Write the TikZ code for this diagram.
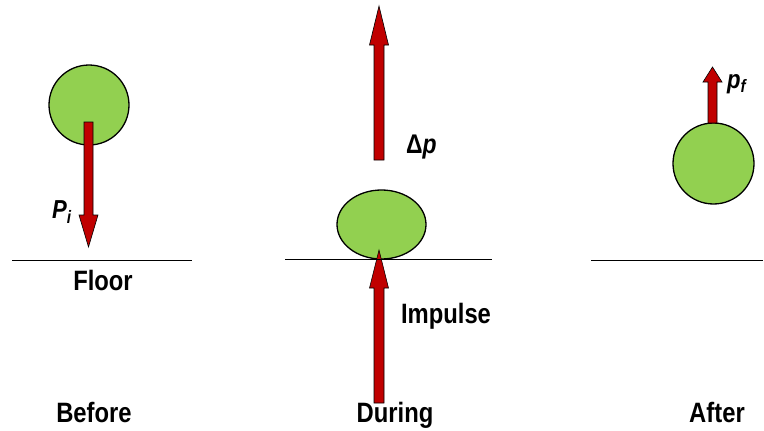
\documentclass[tikz,border=0pt]{standalone}
\usepackage{fontspec}
\setmainfont{Liberation Sans}
\newfontfamily\narrowfont[FakeStretch=0.85]{Liberation Sans}
\usetikzlibrary{shapes.geometric}
\definecolor{ballgreen}{HTML}{92D050}
\definecolor{arrowred}{HTML}{C00000}
\newcommand\vecarrow[6]{% x, tail y, head base y, tip y, half shaft, half head
  \filldraw[arrowfill] (#1-#5,#2) -- (#1-#5,#3) -- (#1-#6,#3) -- (#1,#4) -- (#1+#6,#3) -- (#1+#5,#3) -- (#1+#5,#2) -- cycle;}
\begin{document}
\begin{tikzpicture}[x=1pt,y=-1pt,
  ball/.style={draw=black, line width=1.3pt, fill=ballgreen, inner sep=0pt},
  arrowfill/.style={fill=arrowred, draw=black, line width=0.6pt, line join=miter},
  floorline/.style={draw=black, line width=1pt},
  lbl/.style={font=\narrowfont\bfseries\fontsize{28}{28}\selectfont, inner sep=0pt, anchor=base},
  sym/.style={font=\narrowfont\bfseries\itshape\fontsize{26}{26}\selectfont, inner sep=0pt, anchor=base west}]
\useasboundingbox (0,0) rectangle (764,431);
% Before
\node[ball, circle, minimum size=80pt] (b1) at (89,105) {};
\vecarrow{88.5}{122}{215}{247}{4.5}{9.5}
\coordinate (f1a) at (12,260); \coordinate (f1b) at (192,260);
\draw[floorline] (f1a) -- (f1b);
\node[sym] (pi) at (52,218) {P\raisebox{-5pt}{\fontsize{18}{18}\selectfont i}};
\node[lbl] (floor) at (103,290) {Floor};
\node[lbl] (before) at (94,422) {Before};
% During
\node[ball, ellipse, minimum width=89pt, minimum height=69pt] (b2) at (381.5,224.5) {};
\vecarrow{379}{160}{45}{6}{5}{9.5}
\vecarrow{379}{403}{288}{250}{5}{9.5}
\coordinate (f2a) at (285,259.5); \coordinate (f2b) at (492,259.5);
\draw[floorline] (f2a) -- (f2b);
\node[lbl, anchor=base west] (dp) at (406,153) {\fontsize{27}{27}\selectfont Δ\textit{p}};
\node[lbl] (imp) at (446,323) {Impulse};
\node[lbl] (during) at (395,422) {During};
% After
\node[ball, circle, minimum size=81pt] (b3) at (713.5,163.5) {};
\vecarrow{712.5}{123}{82}{67}{4.5}{9.5}
\coordinate (f3a) at (591,260); \coordinate (f3b) at (763,260);
\draw[floorline] (f3a) -- (f3b);
\node[sym] (pf) at (727,88) {p\raisebox{-4pt}{\fontsize{18}{18}\selectfont f}};
\node[lbl] (after) at (717,422) {After};
\end{tikzpicture}
\end{document}
